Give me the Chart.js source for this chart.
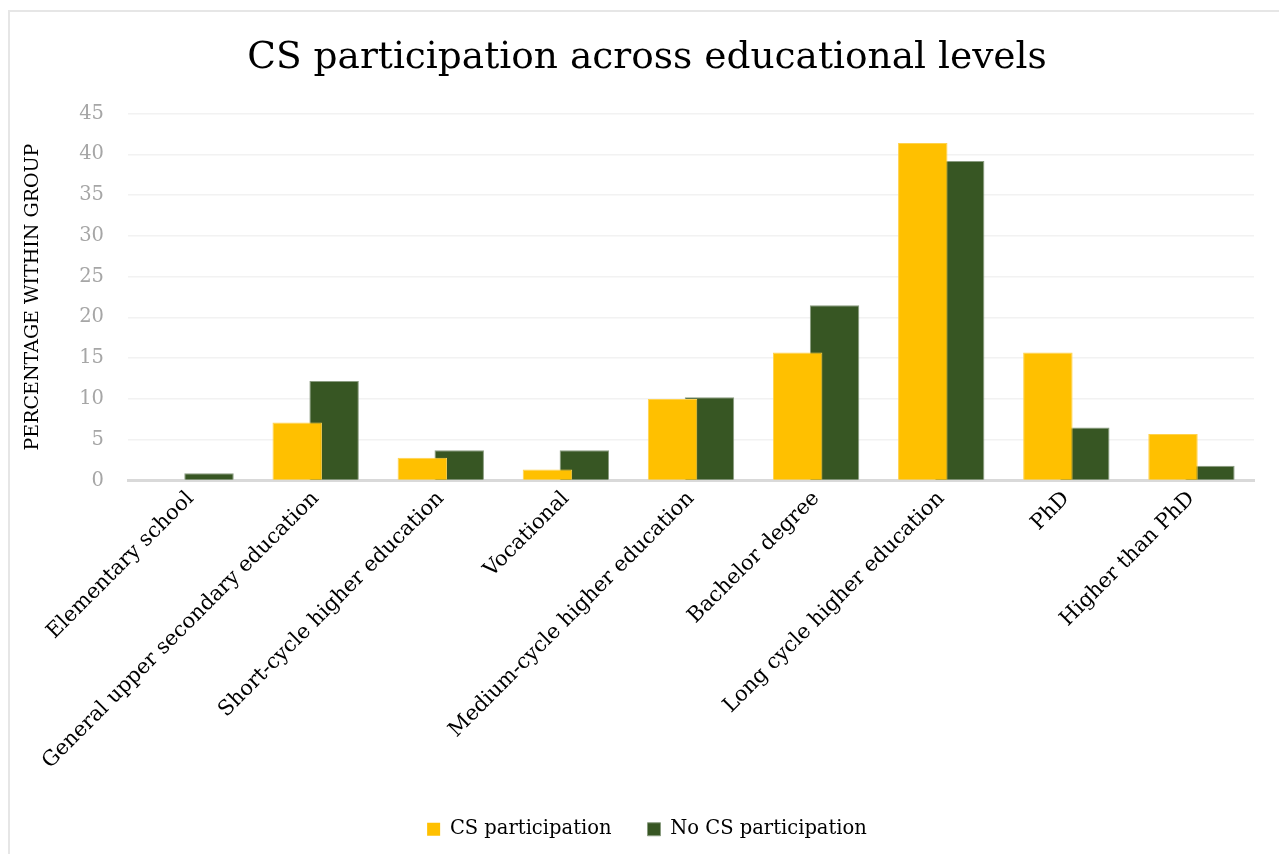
<!DOCTYPE html>
<html>
<head>
<meta charset="utf-8">
<script src="https://cdn.jsdelivr.net/npm/chart.js@4.4.1/dist/chart.umd.min.js"></script>
<style>
  html, body { margin: 0; padding: 0; background: #ffffff; overflow: hidden; }
  #frame { position: absolute; left: 8px; top: 10px; width: 1400px; height: 1000px;
           border-top: 2px solid #e6e6e6; border-left: 2px solid #e6e6e6; }
  #wrap { position: absolute; left: 0; top: 0; width: 1279px; height: 854px; }
</style>
</head>
<body>
<div id="frame"></div>
<div id="wrap"><canvas id="c" width="1279" height="854"></canvas></div>
<script>
const categories = [
  "Elementary school",
  "General upper secondary education",
  "Short-cycle higher education",
  "Vocational",
  "Medium-cycle higher education",
  "Bachelor degree",
  "Long cycle higher education",
  "PhD",
  "Higher than PhD"
];
const csParticipation   = [0, 7.1, 2.8, 1.35, 10.0, 15.7, 41.4, 15.7, 5.7];
const noCsParticipation = [0.9, 12.2, 3.7, 3.7, 10.2, 21.5, 39.2, 6.5, 1.8];
const seriesNames = ["CS participation", "No CS participation"];
const yTicks = [0, 5, 10, 15, 20, 25, 30, 35, 40, 45];

const FONT = "'DejaVu Serif', 'Liberation Serif', serif";

new Chart(document.getElementById('c'), {
  type: 'bar',
  data: {
    labels: categories,
    datasets: [
      {
        label: seriesNames[0],
        data: csParticipation,
        backgroundColor: '#FFC000',
        borderColor: '#FFD24D',
        borderWidth: ctx => (ctx.raw === 0 ? 0 : 1),
        categoryPercentage: 0.59,
        barPercentage: 1.34
      },
      {
        label: seriesNames[1],
        data: noCsParticipation,
        backgroundColor: '#375623',
        borderColor: '#8A9C80',
        borderWidth: ctx => (ctx.raw === 0 ? 0 : 1),
        categoryPercentage: 0.59,
        barPercentage: 1.34
      }
    ]
  },
  options: {
    responsive: false,
    animation: false,
    devicePixelRatio: 1,
    layout: { padding: { left: 40, right: 25, top: 21, bottom: 5 } },
    plugins: {
      title: {
        display: true,
        text: 'CS participation across educational levels',
        color: '#000000',
        font: { family: FONT, size: 37.5, weight: 'normal' },
        padding: { top: 15, bottom: 32.6 }
      },
      legend: {
        display: true,
        position: 'bottom',
        labels: {
          color: '#000000',
          font: { family: FONT, size: 19.5 },
          boxWidth: 13,
          boxHeight: 13,
          padding: 36
        }
      },
      tooltip: { enabled: false }
    },
    scales: {
      x: {
        afterFit: s => { s.height = 303; },
        grid: { display: false, drawTicks: false },
        border: { display: true, color: '#D9D9D9', width: 3 },
        ticks: {
          color: '#000000',
          font: { family: FONT, size: 21 },
          minRotation: 45,
          maxRotation: 45,
          autoSkip: false,
          padding: 6
        }
      },
      y: {
        min: 0,
        max: 45,
        afterFit: s => { s.width = 88; },
        afterBuildTicks: s => { s.ticks = yTicks.map(v => ({ value: v })); },
        border: { display: false },
        grid: {
          drawTicks: false,
          color: ctx => (ctx.tick && ctx.tick.value === 0 ? 'rgba(0,0,0,0)' : '#F2F2F2'),
          lineWidth: 1.5
        },
        ticks: {
          color: '#A6A6A6',
          font: { family: FONT, size: 19.5 },
          padding: 24
        },
        title: {
          display: true,
          text: 'PERCENTAGE WITHIN GROUP',
          color: '#000000',
          font: { family: FONT, size: 19 },
          padding: { top: -18.4, bottom: 4 }
        }
      }
    }
  }
});
</script>
</body>
</html>
